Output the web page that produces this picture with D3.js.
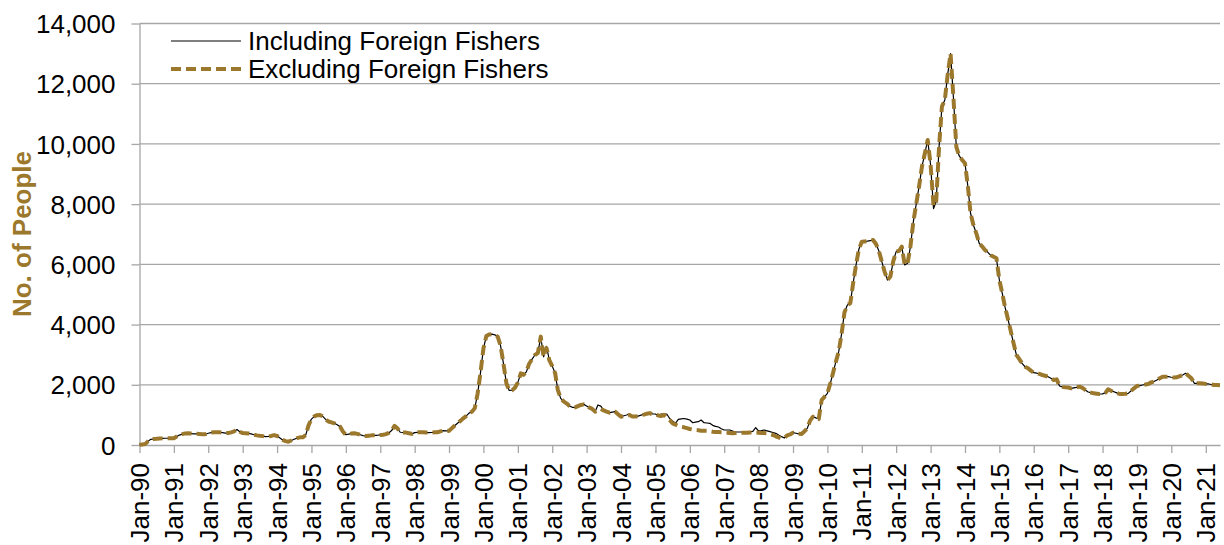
<!DOCTYPE html>
<html>
<head>
<meta charset="utf-8">
<script src="https://cdn.jsdelivr.net/npm/d3@7"></script>
<style>
    body { margin: 0; background: #fff; }
    svg { display: block; font-family: Arial, "Liberation Sans", sans-serif; }
</style>
</head>
<body>
<svg id="chart" width="1224" height="545"></svg>
<script>
(function () {
    'use strict';

    // monthly series, Jan-90 .. Jun-21
    const firstMonth = new Date(1990, 0, 1);
    const lastMonth = new Date(2021, 5, 1);
    const yTicks = [0, 2000, 4000, 6000, 8000, 10000, 12000, 14000];
    const seriesNames = ['Including Foreign Fishers', 'Excluding Foreign Fishers'];

    const including = [
        10, 20, 30, 120, 190, 200, 205, 215, 220, 225, 225, 225,            // 1990
        225, 280, 330, 360, 385, 390, 380, 370, 370, 365, 360, 358,         // 1991
        390, 412, 423, 423, 420, 410, 395, 400, 420, 450, 515, 440,         // 1992
        395, 390, 385, 370, 340, 320, 305, 295, 280, 285, 300, 330,         // 1993
        300, 230, 170, 130, 110, 150, 190, 230, 255, 256, 330, 650,         // 1994
        860, 950, 990, 1000, 950, 850, 780, 750, 720, 670, 610, 450,        // 1995
        340, 360, 380, 390, 370, 340, 310, 300, 310, 320, 323, 323,         // 1996
        334, 340, 360, 400, 479, 635, 557, 423, 415, 412, 390, 368,         // 1997
        412, 420, 423, 420, 412, 412, 415, 420, 423, 450, 479, 470,         // 1998
        468, 560, 640, 724, 800, 886, 960, 1058, 1107, 1218, 1717, 2400,    // 1999
        3200, 3620, 3670, 3680, 3660, 3600, 3300, 2700, 2050, 1810, 1820, 1900, // 2000
        2080, 2380, 2330, 2430, 2700, 2850, 2990, 3050, 3600, 2930, 3280, 2820, // 2001
        2620, 2380, 1830, 1550, 1450, 1384, 1300, 1251, 1250, 1290, 1330, 1350, // 2002
        1295, 1240, 1200, 1107, 1329, 1290, 1150, 1107, 1074, 1090, 1107, 1020, // 2003
        941, 970, 996, 1030, 960, 960, 960, 990, 1020, 1050, 1074, 1030,    // 2004
        1030, 963, 1030, 1030, 1030, 881, 800, 720, 853, 870, 881, 860,     // 2005
        830, 740, 760, 775, 830, 740, 730, 720, 653, 620, 598, 540,         // 2006
        498, 498, 498, 460, 432, 432, 432, 432, 432, 432, 450, 576,         // 2007
        465, 480, 498, 470, 443, 415, 387, 330, 277, 235, 320, 350,         // 2008
        410, 390, 370, 365, 450, 553, 808, 941, 900, 863, 1495, 1600,       // 2009
        1716, 2049, 2381, 2768, 3100, 3700, 4400, 4650, 4706, 5370, 5979, 6500, // 2010
        6750, 6760, 6770, 6790, 6808, 6675, 6450, 6100, 5750, 5480, 5600, 6100, // 2011
        6422, 6450, 6589, 5979, 6034, 6600, 7400, 8000, 8600, 9247, 9690, 10133, // 2012
        9300, 7850, 8085, 9912, 11241, 11462, 12300, 13000, 11500, 9900, 9600, 9469, // 2013
        9358, 8583, 7697, 7300, 7032, 6700, 6600, 6478, 6400, 6300, 6250, 6201, // 2014
        5480, 5038, 4596, 4200, 3800, 3377, 2990, 2850, 2700, 2600, 2547, 2470, // 2015
        2403, 2390, 2360, 2325, 2300, 2270, 2220, 2159, 2180, 1960, 1930, 1916, // 2016
        1910, 1882, 1900, 1916, 1938, 1900, 1827, 1760, 1738, 1716, 1705, 1694, // 2017
        1700, 1738, 1849, 1800, 1771, 1730, 1694, 1694, 1700, 1716, 1800, 1882, // 2018
        1960, 1975, 1993, 2010, 2027, 2080, 2110, 2159, 2220, 2270, 2270, 2270, // 2019
        2250, 2240, 2250, 2290, 2325, 2381, 2300, 2215, 2049, 2049, 2049, 2040, // 2020
        2030, 2027, 2010, 1993, 1990, 1982                                  // 2021
    ];

    const excluding = [
        10, 20, 30, 120, 190, 200, 205, 215, 220, 225, 225, 225,            // 1990
        225, 280, 330, 360, 385, 390, 380, 370, 370, 365, 360, 358,         // 1991
        390, 412, 423, 423, 420, 410, 395, 400, 420, 450, 515, 440,         // 1992
        395, 390, 385, 370, 340, 320, 305, 295, 280, 285, 300, 330,         // 1993
        300, 230, 170, 130, 110, 150, 190, 230, 255, 256, 330, 650,         // 1994
        860, 950, 990, 1000, 950, 850, 780, 750, 720, 670, 610, 450,        // 1995
        340, 360, 380, 390, 370, 340, 310, 300, 310, 320, 323, 323,         // 1996
        334, 340, 360, 400, 479, 635, 557, 423, 415, 412, 390, 368,         // 1997
        412, 420, 423, 420, 412, 412, 415, 420, 423, 450, 479, 470,         // 1998
        468, 560, 640, 724, 800, 886, 960, 1058, 1107, 1218, 1717, 2400,    // 1999
        3200, 3620, 3670, 3680, 3660, 3600, 3300, 2700, 2050, 1810, 1820, 1900, // 2000
        2080, 2380, 2330, 2430, 2700, 2850, 2990, 3050, 3600, 2930, 3220, 2820, // 2001
        2620, 2380, 1830, 1550, 1450, 1384, 1300, 1251, 1250, 1290, 1330, 1350, // 2002
        1295, 1240, 1200, 1107, 1150, 1200, 1150, 1107, 1074, 1090, 1107, 1020, // 2003
        941, 960, 980, 1000, 950, 950, 960, 990, 1010, 1040, 1060, 1020,    // 2004
        1030, 980, 963, 1000, 900, 830, 720, 680, 631, 600, 587, 560,       // 2005
        532, 510, 498, 490, 476, 476, 476, 460, 443, 435, 428, 421,         // 2006
        415, 410, 400, 388, 395, 410, 410, 410, 410, 415, 421, 418,         // 2007
        410, 400, 395, 388, 360, 332, 290, 254, 215, 235, 320, 350,         // 2008
        410, 390, 370, 365, 450, 553, 808, 941, 900, 863, 1495, 1600,       // 2009
        1716, 2049, 2381, 2768, 3100, 3700, 4400, 4650, 4706, 5370, 5979, 6500, // 2010
        6750, 6760, 6770, 6790, 6808, 6675, 6450, 6100, 5750, 5480, 5600, 6100, // 2011
        6422, 6450, 6589, 5979, 6034, 6600, 7400, 8000, 8600, 9247, 9690, 10133, // 2012
        9300, 7950, 8085, 9912, 11241, 11462, 12300, 13000, 11500, 9900, 9600, 9469, // 2013
        9358, 8583, 7697, 7300, 7032, 6700, 6600, 6478, 6400, 6300, 6250, 6201, // 2014
        5480, 5038, 4596, 4200, 3800, 3377, 2990, 2850, 2700, 2600, 2547, 2470, // 2015
        2403, 2390, 2360, 2325, 2300, 2270, 2220, 2159, 2180, 1960, 1930, 1916, // 2016
        1910, 1882, 1900, 1916, 1938, 1900, 1827, 1760, 1738, 1716, 1705, 1694, // 2017
        1700, 1738, 1849, 1800, 1771, 1730, 1694, 1694, 1700, 1716, 1800, 1882, // 2018
        1960, 1975, 1993, 2010, 2027, 2080, 2110, 2159, 2220, 2270, 2270, 2270, // 2019
        2250, 2240, 2250, 2290, 2325, 2381, 2300, 2215, 2049, 2049, 2049, 2040, // 2020
        2030, 2027, 2010, 1993, 1990, 1982                                  // 2021
    ];

    const GOLD = '#9c782c';
    const GRID = '#a6a6a6';
    const FONT = 'Arial, "Liberation Sans", sans-serif';
    const LAYOUT = { left: 139.5, right: 1220, top: 23.5, bottom: 445 };

    const svg = d3.select('#chart');

    const x = d3.scaleTime()
        .domain([firstMonth, lastMonth])
        .range([LAYOUT.left, LAYOUT.right]);
    const y = d3.scaleLinear()
        .domain([0, 14000])
        .range([LAYOUT.bottom, LAYOUT.top]);

    const monthOf = i => d3.timeMonth.offset(firstMonth, i);

    // horizontal grid
    svg.append('g')
        .selectAll('line')
        .data(yTicks.filter(v => v > 0))
        .join('line')
        .attr('x1', LAYOUT.left)
        .attr('x2', LAYOUT.right)
        .attr('y1', d => y(d))
        .attr('y2', d => y(d))
        .attr('stroke', GRID)
        .attr('stroke-width', 1.3);

    // y axis
    const yAxis = svg.append('g')
        .attr('transform', `translate(${LAYOUT.left},0)`)
        .call(d3.axisLeft(y).tickValues(yTicks).tickSize(8).tickSizeOuter(0).tickPadding(16).tickFormat(d3.format(',')));
    yAxis.select('.domain').attr('stroke', GRID).attr('stroke-width', 1.3);
    yAxis.selectAll('.tick line').attr('stroke', GRID).attr('stroke-width', 1.3);
    yAxis.selectAll('text')
        .attr('font-size', 26)
        .attr('font-family', FONT)
        .attr('fill', '#000')
        .attr('dy', '0.35em');

    // x axis, one tick each January
    const xAxis = svg.append('g')
        .attr('transform', `translate(0,${LAYOUT.bottom})`)
        .call(d3.axisBottom(x).ticks(d3.timeYear.every(1)).tickSize(8).tickSizeOuter(0).tickFormat(d3.timeFormat('%b-%y')));
    xAxis.select('.domain').attr('stroke', GRID).attr('stroke-width', 1.3);
    xAxis.selectAll('.tick line').attr('stroke', GRID).attr('stroke-width', 1.3);
    xAxis.selectAll('text')
        .attr('font-size', 26)
        .attr('font-family', FONT)
        .attr('fill', '#000')
        .attr('transform', 'rotate(-90)')
        .attr('text-anchor', 'end')
        .attr('x', -18)
        .attr('y', 0)
        .attr('dy', '0.35em');

    // y axis title
    svg.append('text')
        .attr('transform', 'translate(31,234) rotate(-90)')
        .attr('text-anchor', 'middle')
        .attr('font-size', 26)
        .attr('font-weight', 'bold')
        .attr('fill', GOLD)
        .text('No. of People');

    const line = d3.line()
        .x((d, i) => x(monthOf(i)))
        .y(d => y(d));

    svg.append('path')
        .datum(including)
        .attr('d', line)
        .attr('fill', 'none')
        .attr('stroke', '#000')
        .attr('stroke-width', 1.2)
        .attr('stroke-linejoin', 'round');

    svg.append('path')
        .datum(excluding)
        .attr('d', line)
        .attr('fill', 'none')
        .attr('stroke', GOLD)
        .attr('stroke-width', 4)
        .attr('stroke-dasharray', '10,5')
        .attr('stroke-linejoin', 'round');

    // legend
    const legendRows = svg.append('g')
        .selectAll('g')
        .data(seriesNames)
        .join('g')
        .attr('transform', (d, i) => `translate(0,${41 + i * 28})`);
    legendRows.append('line')
        .attr('x1', 171)
        .attr('x2', 241)
        .attr('stroke', (d, i) => i === 0 ? '#000' : GOLD)
        .attr('stroke-width', (d, i) => i === 0 ? 1.2 : 4)
        .attr('stroke-dasharray', (d, i) => i === 0 ? null : '10,5');
    legendRows.append('text')
        .attr('x', 248)
        .attr('y', 9)
        .attr('font-size', 26)
        .attr('font-family', FONT)
        .attr('fill', '#000')
        .text(d => d);
})();
</script>
</body>
</html>
